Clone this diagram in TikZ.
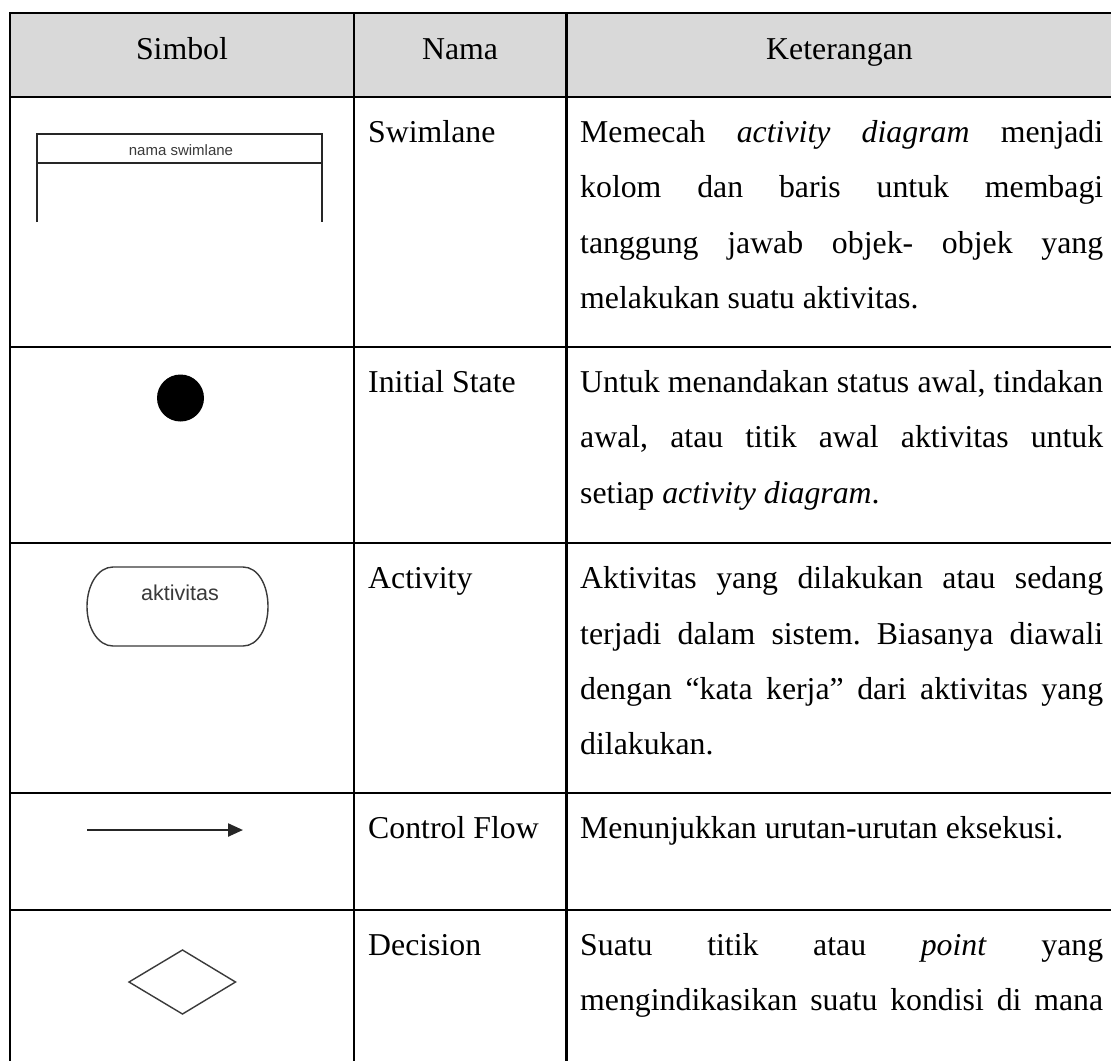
\documentclass[tikz,border=0pt]{standalone}
\usepackage{fontspec}
\setmainfont{Liberation Serif}
\newfontfamily\uisans{Liberation Sans}
\usetikzlibrary{arrows.meta}
\definecolor{hdrgray}{HTML}{D9D9D9}
\definecolor{symgray}{HTML}{3A3A3A}
\newcommand{\jline}[1]{\makebox[523pt][s]{#1}}
\frenchspacing
\tikzset{
  body/.style={font=\fontsize{31.8pt}{55.5pt}\selectfont, inner sep=0pt, anchor=base west},
  head/.style={font=\fontsize{31.8pt}{55.5pt}\selectfont, inner sep=0pt, anchor=base},
  rule/.style={line width=2.6pt},
  symline/.style={line width=1.4pt, draw=symgray},
  symtext/.style={text=symgray, inner sep=0pt, anchor=base},
}
\begin{document}
\begin{tikzpicture}[x=1pt,y=-1pt]
\useasboundingbox (0,0) rectangle (1111,1061);
\fill[white] (0,0) rectangle (1111,1061);
% header background
\fill[hdrgray] (10,13) rectangle (1111,97);
% horizontal rules
\draw[line width=2.2pt] (10,13) -- (1111,13);
\foreach \yy in {97,347,543,793,910}{
  \draw[rule] (10,\yy) -- (1111,\yy);
}
% vertical rules
\foreach \xx in {10,354,566.5}{
  \draw[rule] (\xx,12) -- (\xx,1061);
}
% header
\node[head] (hSimbol) at (182,59) {Simbol};
\node[head] (hNama) at (460,59) {Nama};
\node[head] (hKet) at (839.5,59) {Keterangan};

% names
\node[body] (nSwim) at (368,142) {Swimlane};
\node[body] (nInit) at (368,392) {Initial State};
\node[body] (nAct) at (368,588) {Activity};
\node[body] (nFlow) at (368,838) {Control Flow};
\node[body] (nDec) at (368,955) {Decision};

% descriptions
\node[body] (d1a) at (580,142) {\jline{Memecah \textit{activity} \textit{diagram} menjadi}};
\node[body] (d1b) at (580,197.5) {\jline{kolom dan baris untuk membagi}};
\node[body] (d1c) at (580,253) {\jline{tanggung jawab objek- objek yang}};
\node[body] (d1d) at (580,308.5) {melakukan suatu aktivitas.};

\node[body] (d2a) at (580,392) {\jline{Untuk menandakan status awal, tindakan}};
\node[body] (d2b) at (580,447.5) {\jline{awal, atau titik awal aktivitas untuk}};
\node[body] (d2c) at (580,503) {setiap \textit{activity diagram}.};

\node[body] (d3a) at (580,588.5) {\jline{Aktivitas yang dilakukan atau sedang}};
\node[body] (d3b) at (580,644) {\jline{terjadi dalam sistem. Biasanya diawali}};
\node[body] (d3c) at (580,699.5) {\jline{dengan “kata kerja” dari aktivitas yang}};
\node[body] (d3d) at (580,754.5) {dilakukan.};

\node[body] (d4a) at (580,838) {Menunjukkan urutan-urutan eksekusi.};

\node[body] (d5a) at (580,955.5) {\jline{Suatu titik atau \textit{point} yang}};
\node[body] (d5b) at (580,1010.5) {\jline{mengindikasikan suatu kondisi di mana}};

% swimlane symbol
\coordinate (swBL) at (37,222);
\coordinate (swTL) at (37,134);
\coordinate (swTR) at (322,134);
\coordinate (swBR) at (322,222);
\draw[symline, line width=1.6pt, draw=black!85] (swBL) -- (swTL) -- (swTR) -- (swBR);
\coordinate (swML) at (37,163);
\coordinate (swMR) at (322,163);
\draw[symline, line width=1.6pt, draw=black!85] (swML) -- (swMR);
\node[symtext, font=\uisans\fontsize{15pt}{16pt}\selectfont] (swName) at (181,155.5) {nama swimlane};

% initial state
\node[circle, fill=black, minimum size=47pt, inner sep=0pt] (initDot) at (180.5,398) {};

% activity
\draw[symline] (113,567) -- (243,567)
  .. controls (258,567) and (268,585) .. (268,606.5)
  .. controls (268,628) and (258,646) .. (243,646)
  -- (113,646)
  .. controls (98,646) and (87,628) .. (87,606.5)
  .. controls (87,585) and (98,567) .. (113,567) -- cycle;
\node[symtext, font=\uisans\fontsize{21.5pt}{24pt}\selectfont] (actText) at (180,600) {aktivitas};

% control flow
\coordinate (cfA) at (87,830);
\coordinate (cfB) at (243,830);
\draw[line width=2.3pt, draw=black!85, -{Triangle[length=15pt,width=13pt]}] (cfA) -- (cfB);

% decision
\coordinate (dW) at (129,982);
\coordinate (dN) at (182.5,950);
\coordinate (dE) at (235.5,982);
\coordinate (dS) at (182.5,1014);
\draw[symline, line join=miter] (dW) -- (dN) -- (dE) -- (dS) -- cycle;
\end{tikzpicture}
\end{document}
